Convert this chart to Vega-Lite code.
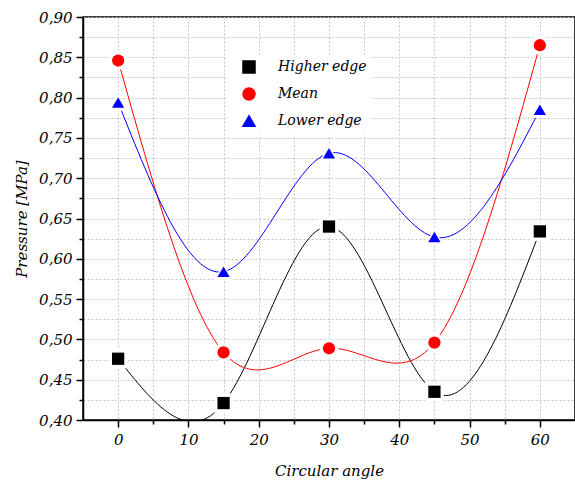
{
  "$schema": "https://vega.github.io/schema/vega-lite/v6.json",
  "width": 492,
  "height": 403,
  "autosize": {"type": "none"},
  "padding": {"left": 83, "top": 17, "right": 0, "bottom": 61},
  "background": "white",
  "config": {"view": {"stroke": "black", "strokeWidth": 1.5}, "font": "DejaVu Serif"},
  "data": {"values": [
    {"series": "Higher edge", "angle": 0, "pressure": 0.476},
    {"series": "Higher edge", "angle": 15, "pressure": 0.421},
    {"series": "Higher edge", "angle": 30, "pressure": 0.640},
    {"series": "Higher edge", "angle": 45, "pressure": 0.435},
    {"series": "Higher edge", "angle": 60, "pressure": 0.634},
    {"series": "Mean", "angle": 0, "pressure": 0.846},
    {"series": "Mean", "angle": 15, "pressure": 0.484},
    {"series": "Mean", "angle": 30, "pressure": 0.489},
    {"series": "Mean", "angle": 45, "pressure": 0.496},
    {"series": "Mean", "angle": 60, "pressure": 0.865},
    {"series": "Lower edge", "angle": 0, "pressure": 0.794},
    {"series": "Lower edge", "angle": 15, "pressure": 0.584},
    {"series": "Lower edge", "angle": 30, "pressure": 0.731},
    {"series": "Lower edge", "angle": 45, "pressure": 0.627},
    {"series": "Lower edge", "angle": 60, "pressure": 0.785}
  ]},
  "encoding": {
    "x": {"field": "angle", "type": "quantitative",
      "scale": {"domain": [-5, 65], "nice": false, "zero": false},
      "axis": {
        "title": "Circular angle",
        "values": [0, 5, 10, 15, 20, 25, 30, 35, 40, 45, 50, 55, 60],
        "labelExpr": "datum.value % 10 === 0 ? datum.label : ''",
        "tickSize": {"condition": {"test": "datum.value % 10 === 0", "value": 7}, "value": 4},
        "grid": true, "gridDash": [2, 2], "gridColor": "#c4c4c4", "gridWidth": 1,
        "domainColor": "black", "domainWidth": 1.5, "tickColor": "black", "tickWidth": 1.5,
        "labelFont": "DejaVu Serif", "labelFontStyle": "italic", "labelFontSize": 15, "labelColor": "black",
        "labelPadding": 5, "labelFlush": false,
        "titleFont": "DejaVu Serif", "titleFontStyle": "italic", "titleFontWeight": "normal", "titleFontSize": 15, "titleColor": "black",
        "titlePadding": 16
      }},
    "y": {"field": "pressure", "type": "quantitative",
      "scale": {"domain": [0.4, 0.9], "nice": false, "zero": false},
      "axis": {
        "title": "Pressure [MPa]",
        "values": [0.4, 0.425, 0.45, 0.475, 0.5, 0.525, 0.55, 0.575, 0.6, 0.625, 0.65, 0.675, 0.7, 0.725, 0.75, 0.775, 0.8, 0.825, 0.85, 0.875, 0.9],
        "labelExpr": "abs(datum.value*20 - round(datum.value*20)) < 0.01 ? replace(format(datum.value, '.2f'), '.', ',') : ''",
        "tickSize": {"condition": {"test": "abs(datum.value*20 - round(datum.value*20)) < 0.01", "value": 7}, "value": 4},
        "grid": true, "gridDash": [2, 2], "gridColor": "#c4c4c4", "gridWidth": 1,
        "domainColor": "black", "domainWidth": 1.5, "tickColor": "black", "tickWidth": 1.5,
        "labelFont": "DejaVu Serif", "labelFontStyle": "italic", "labelFontSize": 15, "labelColor": "black",
        "labelPadding": 4, "labelFlush": false,
        "titleFont": "DejaVu Serif", "titleFontStyle": "italic", "titleFontWeight": "normal", "titleFontSize": 15, "titleColor": "black",
        "titlePadding": 9
      }},
    "color": {"field": "series", "type": "nominal",
      "scale": {"domain": ["Higher edge", "Mean", "Lower edge"], "range": ["black", "#ff0000", "#0000ff"]},
      "legend": {
        "orient": "none", "legendX": 145, "legendY": 38, "title": null,
        "fillColor": "white", "padding": 5,
        "labelFont": "DejaVu Serif", "labelFontStyle": "italic", "labelFontSize": 14, "labelColor": "black",
        "symbolSize": 144, "symbolOffset": 9, "labelOffset": 22, "rowPadding": 9, "symbolOpacity": 1
      }}
  },
  "layer": [
    {
      "mark": {"type": "line", "interpolate": "natural", "clip": true, "strokeWidth": 1}
    },
    {
      "mark": {"type": "point", "filled": true, "opacity": 1, "size": 360},
      "encoding": {
        "color": {"value": "white"},
        "shape": {"field": "series", "type": "nominal",
          "scale": {"domain": ["Higher edge", "Mean", "Lower edge"], "range": ["square", "circle", "triangle-up"]},
          "legend": null}
      }
    },
    {
      "mark": {"type": "point", "filled": true, "opacity": 1, "size": 150},
      "encoding": {
        "shape": {"field": "series", "type": "nominal",
          "scale": {"domain": ["Higher edge", "Mean", "Lower edge"], "range": ["square", "circle", "triangle-up"]},
          "legend": null}
      }
    }
  ]
}
